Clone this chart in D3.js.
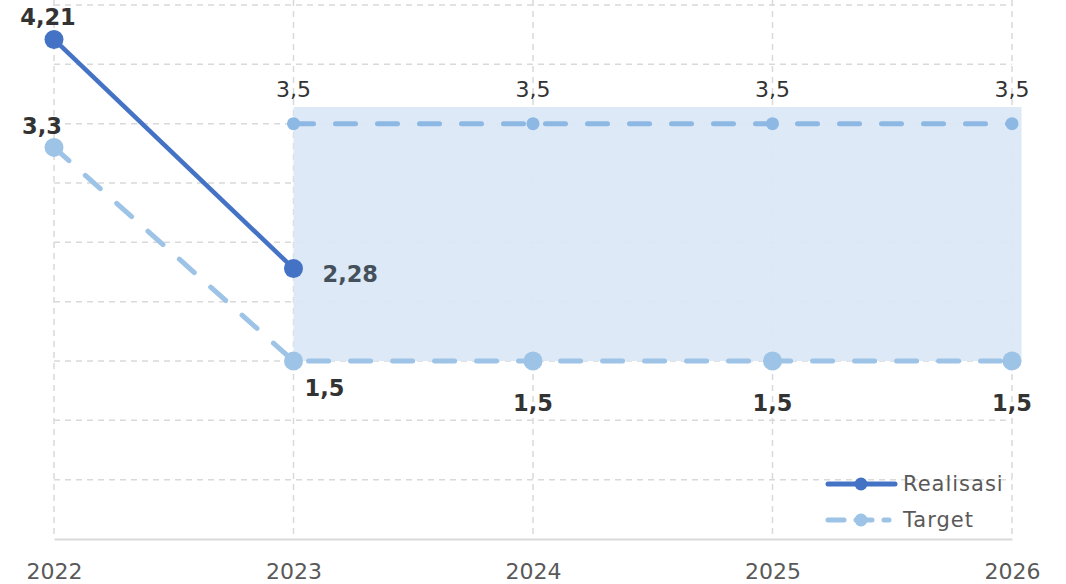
<!DOCTYPE html>
<html><head><meta charset="utf-8">
<script src="https://cdn.jsdelivr.net/npm/d3@7"></script>
<style>body{margin:0;background:#fff;}svg{display:block;font-family:"DejaVu Sans",sans-serif;}</style>
</head><body><svg id="c" width="1066" height="584"></svg>
<script>
const years = [2022, 2023, 2024, 2025, 2026];
const realisasiYears = [2022, 2023];
const realisasi = [4.21, 2.28];
const targetLow = [3.3, 1.5, 1.5, 1.5, 1.5];
const targetHighYears = [2023, 2024, 2025, 2026];
const targetHigh = [3.5, 3.5, 3.5, 3.5];
const bandX = [2023, 2026.04];
const bandY = [1.5, 3.64];
const yTicks = [0, 0.5, 1, 1.5, 2, 2.5, 3, 3.5, 4, 4.5];
const fmt = v => String(v).replace('.', ',');

const svg = d3.select('#c');
const x = d3.scaleLinear().domain([2022, 2026]).range([54, 1012]);
const y = d3.scaleLinear().domain([0, 4.5]).range([539, 5]);
const FONT = '"DejaVu Sans",sans-serif';

const gridC = '#d9d9d9';
svg.append('g').selectAll('line').data(yTicks.slice(1)).join('line')
  .attr('x1', x(2022)).attr('x2', x(2026)).attr('y1', d => y(d)).attr('y2', d => y(d))
  .attr('stroke', gridC).attr('stroke-width', 1.5).attr('stroke-dasharray', '6,5');
svg.append('g').selectAll('line').data(years).join('line')
  .attr('x1', d => x(d)).attr('x2', d => x(d)).attr('y1', 0).attr('y2', y(0))
  .attr('stroke', gridC).attr('stroke-width', 1.5).attr('stroke-dasharray', '6,5');

svg.append('rect').attr('x', x(bandX[0])).attr('y', y(bandY[1]))
  .attr('width', x(bandX[1]) - x(bandX[0])).attr('height', y(bandY[0]) - y(bandY[1]))
  .attr('fill', '#dbe8f6').attr('opacity', 0.95);

const xAxis = d3.axisBottom(x).tickValues(years).tickFormat(d3.format('d')).tickSize(0).tickPadding(24);
const gx = svg.append('g').attr('transform', `translate(0,${y(0)})`).call(xAxis);
gx.select('.domain').attr('stroke', '#d9d9d9').attr('stroke-width', 2);
gx.selectAll('text').attr('font-size', 22).attr('fill', '#595959').attr('font-family', FONT);

const tColor = '#9dc3e6';
const rColor = '#4472c4';
const line = d3.line().x(d => x(d[0])).y(d => y(d[1]));

const th = targetHighYears.map((d, i) => [d, targetHigh[i]]);
svg.append('path').datum(th).attr('d', line).attr('fill', 'none').attr('stroke', '#8db8e4')
  .attr('stroke-width', 5).attr('stroke-linecap', 'round').attr('stroke-dasharray', '20,22');
svg.append('g').selectAll('circle').data(th).join('circle')
  .attr('cx', d => x(d[0])).attr('cy', d => y(d[1])).attr('r', 6.5).attr('fill', '#8db8e4');

const tl = years.map((d, i) => [d, targetLow[i]]);
svg.append('path').datum(tl).attr('d', line).attr('fill', 'none').attr('stroke', tColor)
  .attr('stroke-width', 5).attr('stroke-linecap', 'round').attr('stroke-dasharray', '20,22');
svg.append('g').selectAll('circle').data(tl).join('circle')
  .attr('cx', d => x(d[0])).attr('cy', d => y(d[1])).attr('r', 9.5).attr('fill', tColor);

const rl = realisasiYears.map((d, i) => [d, realisasi[i]]);
svg.append('path').datum(rl).attr('d', line).attr('fill', 'none').attr('stroke', rColor)
  .attr('stroke-width', 4.5);
svg.append('g').selectAll('circle').data(rl).join('circle')
  .attr('cx', d => x(d[0])).attr('cy', d => y(d[1])).attr('r', 9.5).attr('fill', rColor);

const lab = (tx, ty, text, anchor, weight, fill, size) => svg.append('text').attr('x', tx).attr('y', ty)
  .attr('text-anchor', anchor).attr('font-size', size || 22.5).attr('font-weight', weight).attr('fill', fill || '#333').text(text);
lab(x(rl[0][0]) - 6, y(rl[0][1]) - 14, fmt(realisasi[0]), 'middle', 700);
lab(x(rl[1][0]) + 29, y(rl[1][1]) + 14, fmt(realisasi[1]), 'start', 700, '#44505c');
lab(x(tl[0][0]) - 12, y(tl[0][1]) - 13, fmt(targetLow[0]), 'middle', 700);
tl.slice(1).forEach((d, i) => {
  if (i === 0) lab(x(d[0]) + 11, y(d[1]) + 35, fmt(d[1]), 'start', 700);
  else lab(x(d[0]), y(d[1]) + 50, fmt(d[1]), 'middle', 700);
});
th.forEach(d => lab(x(d[0]), y(d[1]) - 27, fmt(d[1]), 'middle', 400, '#333', 22));

const lg = svg.append('g');
lg.append('line').attr('x1', 828).attr('x2', 895).attr('y1', 484).attr('y2', 484)
  .attr('stroke', rColor).attr('stroke-width', 5).attr('stroke-linecap', 'round');
lg.append('circle').attr('cx', 861).attr('cy', 484).attr('r', 6.5).attr('fill', rColor);
lg.append('text').attr('x', 903).attr('y', 491).attr('font-size', 21).attr('letter-spacing', 1).attr('fill', '#595959').text('Realisasi');
lg.append('line').attr('x1', 828).attr('x2', 889).attr('y1', 520).attr('y2', 520)
  .attr('stroke', tColor).attr('stroke-width', 5).attr('stroke-linecap', 'round').attr('stroke-dasharray', '16,12');
lg.append('circle').attr('cx', 861).attr('cy', 520).attr('r', 6.5).attr('fill', tColor);
lg.append('text').attr('x', 903).attr('y', 527).attr('font-size', 21).attr('letter-spacing', 1).attr('fill', '#595959').text('Target');
</script></body></html>
